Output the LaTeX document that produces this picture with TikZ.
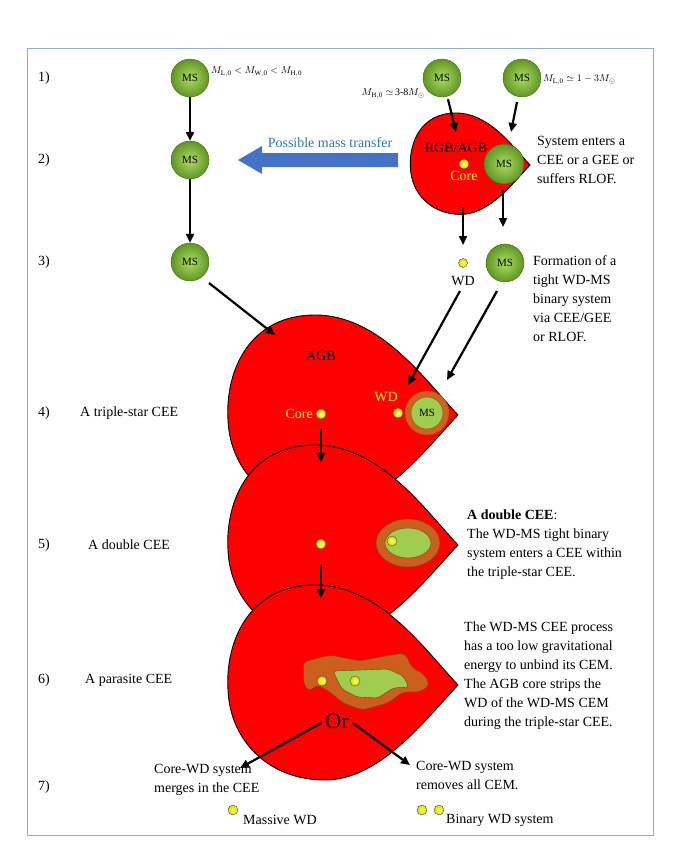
\documentclass[tikz,border=0pt]{standalone}
\usepackage{fontspec}
\setmainfont{Liberation Serif}
\usetikzlibrary{arrows.meta}
\definecolor{msin}{RGB}{175,220,100}
\definecolor{msout}{RGB}{95,150,35}
\definecolor{ringc}{RGB}{205,95,30}
\definecolor{greenin}{RGB}{160,205,80}
\definecolor{bluearr}{RGB}{68,114,196}
\definecolor{bluetxt}{RGB}{46,117,182}
\tikzset{
  ms/.style={circle,draw=msout!70!black,inner color=msin,outer color=msout,minimum size=38pt,inner sep=0pt,font=\fontsize{11}{12}\selectfont},
  dot/.style={circle,draw=black!70,inner color=yellow!60!white,outer color=yellow!85!black,minimum size=10pt,inner sep=0pt},
  blobst/.style={draw=black,line width=0.9pt,fill=red},
  arr/.style={line width=2.2pt,-{Triangle[length=9pt,width=8pt]}},
  txt/.style={font=\fontsize{14}{19}\selectfont,align=left,inner sep=0pt},
  ytxt/.style={font=\fontsize{14}{16}\selectfont,text=yellow,inner sep=0pt},
}
\newcommand\myblob[2]{\draw[blobst,shift={(#1)},scale=#2] (0,0) .. controls (-33,-35) and (-78,-100) .. (-143,-100) .. controls (-208,-100) and (-233,-45) .. (-230,5) .. controls (-228,55) and (-190,95) .. (-133,95) .. controls (-78,95) and (-33,35) .. (0,0) -- cycle;}
\begin{document}
\begin{tikzpicture}[x=1pt,y=-1pt]
\useasboundingbox (0,0) rectangle (680,849);
\draw[bluearr!60,line width=0.8pt] (27,48) rectangle (653,835);
% row labels
\foreach \t/\y in {1)/78,2)/160,3)/262,4)/413,5)/545,6)/680,7)/787}
  \node[txt,anchor=west] at (38,\y) {\t};
\node[txt,anchor=west] (l4) at (80,413) {A triple-star CEE};
\node[txt,anchor=west] (l5) at (88,545) {A double CEE};
\node[txt,anchor=west] (l6) at (85,680) {A parasite CEE};
% blobs
\myblob{458,415}{1}
\myblob{458,545}{1}
\myblob{458,685}{1}
\myblob{530,165}{0.52}
% top row
\node[ms] (a1) at (190,78) {MS};
\node[ms] (b1) at (442,78) {MS};
\node[ms] (c1) at (522,78) {MS};
\node[anchor=west,inner sep=0pt] at (211,72) {$M_{\rm L,0}<M_{\rm W,0}<M_{\rm H,0}$};
\node[anchor=east,inner sep=0pt] at (425,94) {$M_{\rm H,0}\simeq\,$3-8$M_\odot$};
\node[anchor=west,inner sep=0pt] at (543,80) {$M_{\rm L,0}\simeq 1-3M_\odot$};
% row 2
\node[ms] (a2) at (190,160) {MS};
\node[dot] (core0) at (464,164) {};
\node[ytxt,anchor=north] at (464,171) {Core};
\node[font=\fontsize{14}{16}\selectfont,inner sep=0pt] at (456,148) {RGB/AGB};
\node[ms,minimum size=40pt] (c2) at (504,164) {MS};
\node[txt,anchor=north west] at (537,136) {System enters a\\CEE or a GEE or\\suffers RLOF.};
\fill[bluearr] (398,153) -- (262,153) -- (262,146) -- (238,160) -- (262,174) -- (262,167) -- (398,167) -- cycle;
\node[font=\fontsize{14}{16}\selectfont,text=bluetxt] at (330,143) {Possible mass transfer};
% row 3
\node[ms] (a3) at (190,262) {MS};
\node[dot,minimum size=9pt] (wd3) at (463,263) {};
\node[font=\fontsize{14}{16}\selectfont,inner sep=0pt] at (463,281) {WD};
\node[ms] (c3) at (505,263) {MS};
\node[txt,anchor=north west] at (533,255) {Formation of a\\tight WD-MS\\binary system\\via CEE/GEE\\or RLOF.};
% row 4
\node[font=\fontsize{14}{16}\selectfont,inner sep=0pt] at (321,356) {AGB};
\node[dot] (core4) at (321,414) {};
\node[ytxt,anchor=east] at (313,414) {Core};
\node[circle,minimum size=44pt,inner sep=0pt,draw=ringc!80!black,inner color=ringc!60!orange,outer color=ringc] (ring4) at (427,413) {};
\node[circle,minimum size=32pt,inner sep=0pt,fill=greenin,draw=ringc!70!black] (ms4) at (427,413) {\fontsize{11}{12}\selectfont MS};
\node[dot] (wd4) at (398,413) {};
\node[ytxt] at (386,397) {WD};
% row 5
\draw[fill=ringc,draw=ringc!70!black,line width=0.6pt] (408,543) ellipse (32 and 24);
\draw[fill=greenin,draw=ringc!60!black] (408,543) ellipse (23 and 15);
\node[dot] (core5) at (321,544) {};
\node[dot] (wd5) at (392,541) {};
\node[txt,anchor=north west] at (467,510) {\textbf{A double CEE}:\\The WD-MS tight binary\\system enters a CEE within\\the triple-star CEE.};
% row 6 parasite
\draw[fill=ringc,draw=ringc!70!black,line width=0.6pt,rounded corners=5pt]
  (304,686) -- (303,662) -- (330,655) -- (360,661) -- (385,656) -- (405,653) -- (412,668) -- (424,674) -- (430,685) -- (420,692) -- (403,692) -- (388,703) -- (362,710) -- (343,703) -- (330,692) -- (316,684) -- (311,692) -- cycle;
\draw[fill=greenin,draw=ringc!60!black,rounded corners=3pt]
  (333,671) -- (362,670) -- (388,669) -- (403,676) -- (409,687) -- (393,688) -- (378,698) -- (357,697) -- (342,689) -- cycle;
\node[dot] (core6) at (322,681) {};
\node[dot] (wd6) at (355,681) {};
\node[txt,anchor=north west] at (464,622) {The WD-MS CEE process\\has a too low gravitational\\energy to unbind its CEM.\\The AGB core strips the\\WD of the WD-MS CEM\\during the triple-star CEE.};
\node[font=\fontsize{22}{24}\selectfont,inner sep=0pt] (or) at (337,721) {Or};
% row 7
\coordinate (m1) at (240,768);
\coordinate (m2) at (410,765);
\node[txt,anchor=north west] at (154,764) {Core-WD system\\merges in the CEE};
\node[txt,anchor=north west] at (416,761) {Core-WD system\\removes all CEM.};
\node[dot] (mwd) at (233,810) {};
\node[txt,anchor=west] at (243,820) {Massive WD};
\node[dot] (bw1) at (422,810) {};
\node[dot] (bw2) at (439,810) {};
\node[txt,anchor=west] at (446,820) {Binary WD system};
% arrows
\draw[arr] (a1) -- (a2);
\draw[arr] (a2) -- (a3);
\draw[arr] (209,283) -- (275,335);
\draw[arr] (b1.south) ++(6,2) -- (456,132);
\draw[arr] (517,102) -- (511,132);
\draw[arr] (463,207) -- (463,245);
\draw[arr] (503,190) -- (503,227);
\draw[arr] (460,291) -- (408,385);
\draw[arr] (497,291) -- (447,380);
\draw[arr] (321,429) -- (321,462);
\draw[arr] (321,565) -- (321,598);
\draw[arr] (or.west) ++(-4,2) -- (m1);
\draw[arr] (or.east) ++(4,2) -- (m2);
\end{tikzpicture}
\end{document}
